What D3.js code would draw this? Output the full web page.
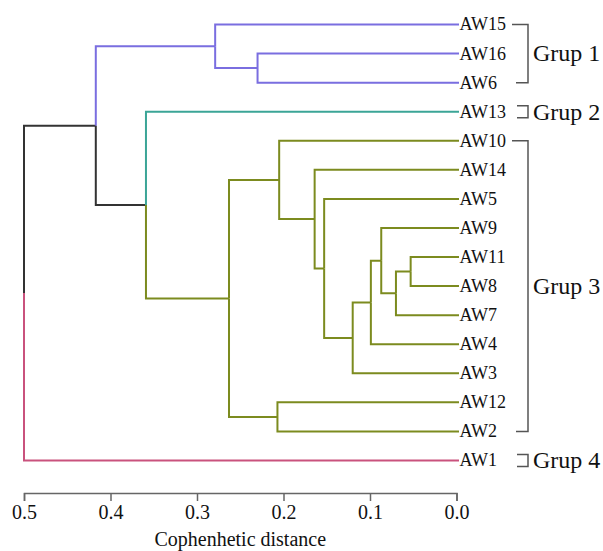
<!DOCTYPE html>
<html>
<head>
<meta charset="utf-8">
<script src="https://cdn.jsdelivr.net/npm/d3@7"></script>
<style>
  body { margin: 0; background: #fff; }
  text { font-family: "Liberation Serif", "Times New Roman", serif; fill: #111; }
</style>
</head>
<body>
<svg id="chart" width="603" height="551"></svg>
<script>
// leaf order top to bottom
var leaves = ['AW15', 'AW16', 'AW6', 'AW13', 'AW10', 'AW14', 'AW5', 'AW9',
              'AW11', 'AW8', 'AW7', 'AW4', 'AW3', 'AW12', 'AW2', 'AW1'];
var leafGroup = [1, 1, 1, 2, 3, 3, 3, 3, 3, 3, 3, 3, 3, 3, 3, 4];

// merges (linkage): name, upper child, lower child, cophenetic distance
var mergeNames  = ['M', 'L', 'K', 'J', 'I', 'H', 'F', 'D', 'E', 'G3', 'C', 'G1', 'B', 'A', 'root'];
var mergeUpper  = ['AW11', 'M', 'AW9', 'K', 'J', 'AW5', 'AW14', 'AW10', 'AW12', 'D', 'AW16', 'AW15', 'AW13', 'G1', 'A'];
var mergeLower  = ['AW8', 'AW7', 'L', 'AW4', 'AW3', 'I', 'H', 'F', 'AW2', 'E', 'AW6', 'C', 'G3', 'B', 'AW1'];
var mergeHeight = [0.053, 0.070, 0.087, 0.099, 0.120, 0.153, 0.164, 0.205, 0.207, 0.263, 0.230, 0.279, 0.359, 0.417, 0.5];

var groupNames = ['Grup 1', 'Grup 2', 'Grup 3', 'Grup 4'];
var groupColors = ['#7a6ee0', '#3ba597', '#7c8b1f', '#c9527d'];
var mixedColor = '#333333';

var axisTicks = [0.5, 0.4, 0.3, 0.2, 0.1, 0.0];
var axisTitle = 'Cophenhetic distance';

var svg = d3.select('#chart');

var x = d3.scaleLinear().domain([0.5, 0]).range([24, 456.5]);
var y = d3.scalePoint().domain(leaves).range([24.5, 460.5]);

// build tree
var nodes = {};
leaves.forEach(function(n, i) {
  nodes[n] = { name: n, height: 0, group: leafGroup[i], y: y(n) };
});
mergeNames.forEach(function(n, i) {
  var a = nodes[mergeUpper[i]], b = nodes[mergeLower[i]];
  nodes[n] = {
    name: n,
    height: mergeHeight[i],
    children: [a, b],
    group: a.group === b.group ? a.group : 0,
    y: (a.y + b.y) / 2
  };
});
var root = d3.hierarchy(nodes.root);

function colorOf(d) {
  return d.data.group ? groupColors[d.data.group - 1] : mixedColor;
}

svg.append('g')
  .selectAll('path')
  .data(root.links())
  .join('path')
  .attr('fill', 'none')
  .attr('stroke', function(l) { return colorOf(l.target); })
  .attr('stroke-width', 2)
  .attr('d', function(l) {
    var tx = !l.target.children ? x(0) + 2.5 : x(l.target.data.height);
    return 'M' + x(l.source.data.height) + ',' + l.source.data.y +
           'V' + l.target.data.y + 'H' + tx;
  });

// leaf labels
svg.append('g')
  .selectAll('text')
  .data(leaves)
  .join('text')
  .attr('x', x(0) + 3)
  .attr('y', function(d) { return y(d); })
  .attr('dy', '0.33em')
  .style('font-size', '18px')
  .text(function(d) { return d; });

// group brackets
var bracket = svg.append('g')
  .attr('fill', 'none')
  .attr('stroke', '#555')
  .attr('stroke-width', 1.5);

groupNames.forEach(function(g, gi) {
  var members = leaves.filter(function(n, i) { return leafGroup[i] === gi + 1; });
  var y0 = y(members[0]), y1 = y(members[members.length - 1]);
  var bx = 528, cy = (y0 + y1) / 2;
  if (members.length === 1) {
    bracket.append('path')
      .attr('d', 'M' + (bx - 11) + ',' + (y0 - 6) + 'H' + bx + 'V' + (y0 + 6) + 'H' + (bx - 11));
  } else {
    bracket.append('path')
      .attr('d', 'M' + (bx - 16) + ',' + y0 + 'H' + bx + 'V' + y1 + 'H' + (bx - 12));
  }
  svg.append('text')
    .attr('x', bx + 5)
    .attr('y', cy)
    .attr('dy', '0.33em')
    .style('font-size', '24px')
    .text(g);
});

// axis
var axis = svg.append('g')
  .attr('transform', 'translate(0,493)')
  .call(d3.axisBottom(x)
    .tickValues(axisTicks)
    .tickFormat(d3.format('.1f'))
    .tickSize(8)
    .tickPadding(4));
axis.attr('font-family', '"Liberation Serif", serif');
axis.select('.domain').attr('stroke', '#666').attr('stroke-width', 1.5);
axis.selectAll('.tick line').attr('stroke', '#666').attr('stroke-width', 1.5);
axis.selectAll('.tick text')
  .style('font-size', '20px')
  .style('font-family', '"Liberation Serif", serif')
  .attr('fill', '#111');

svg.append('text')
  .attr('x', (x(0.5) + x(0)) / 2)
  .attr('y', 546)
  .attr('text-anchor', 'middle')
  .style('font-size', '20px')
  .text(axisTitle);
</script>
</body>
</html>
